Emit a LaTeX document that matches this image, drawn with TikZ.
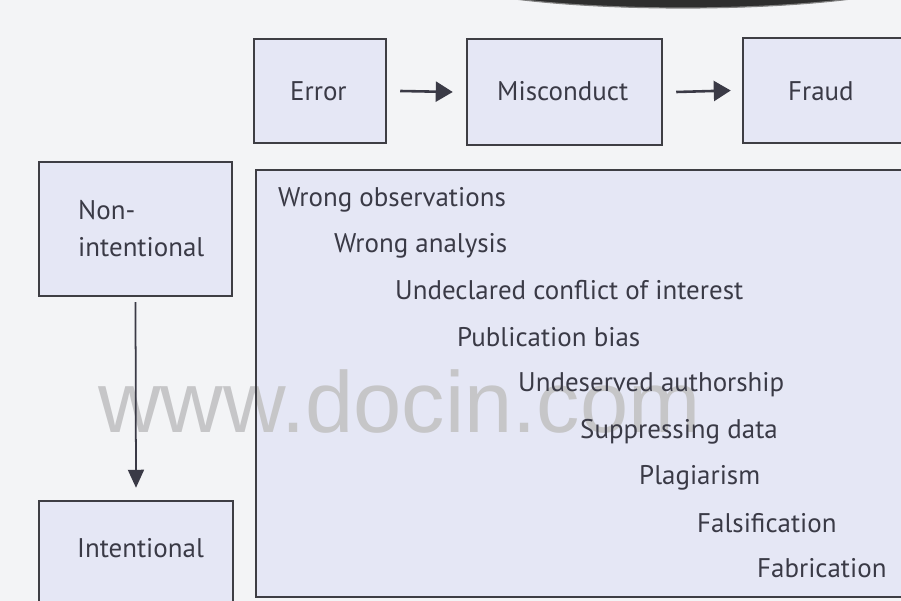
\documentclass[tikz,border=0pt]{standalone}
\usepackage{fontspec}
\setmainfont{PT Sans}
\newfontfamily\wmfont{Liberation Sans}
\usetikzlibrary{arrows.meta}
\definecolor{bgc}{HTML}{F3F4F6}
\definecolor{panelc}{HTML}{E5E7F5}
\definecolor{edgec}{HTML}{3E3E44}
\definecolor{ink}{HTML}{3A3A46}
\definecolor{wmark}{HTML}{C6C6C8}
\begin{document}
\begin{tikzpicture}[x=0.03cm,y=-0.03cm,
  panel/.style={fill=panelc, draw=none, rectangle, inner sep=0pt},
  edgeline/.style={draw=edgec, line width=1.7pt},
  lbl/.style={text=ink, font=\fontsize{23}{27}\selectfont, inner sep=0pt, anchor=base west},
  harrow/.style={draw=ink, line width=2.2pt, -{Triangle[length=0.51cm,width=0.6cm]}},
  varrow/.style={draw=ink, line width=1.5pt, -{Triangle[length=0.54cm,width=0.48cm]}},
  wm/.style={text=wmark, font=\wmfont\fontsize{74}{80}\selectfont, inner sep=0pt, anchor=base west}]
\useasboundingbox (0,0) rectangle (901,601);
\clip (0,0) rectangle (901,601);
\fill[bgc] (0,0) rectangle (901,601);
% dark shape at the top edge
\fill[black!82, draw=black!50, line width=1pt] (683,-30) ellipse [x radius=7.8cm, y radius=1.14cm];
% box fills
\node[panel, minimum width=3.96cm, minimum height=3.12cm] (err) at (320,91) {};
\node[panel, minimum width=5.85cm, minimum height=3.18cm] (mis) at (564.5,92) {};
\node[panel, minimum width=5.61cm, minimum height=3.15cm] (fra) at (836.5,90.5) {};
\node[panel, minimum width=5.79cm, minimum height=4.02cm] (non) at (135.5,229) {};
\node[panel, minimum width=5.82cm, minimum height=4.17cm] (int) at (136,570.5) {};
\node[panel, minimum width=20.22cm, minimum height=12.81cm] (big) at (593,383.5) {};
% watermark
\node[wm] (wmk) at (98,432) {www.docin.com};
% box borders
\foreach \n in {err,mis,fra,non,int,big}
  \draw[edgeline] (\n.north west) rectangle (\n.south east);
% connectors
\draw[harrow] ([xshift=0.42cm]err.east) -- ([xshift=-0.42cm]mis.west);
\draw[harrow] ([xshift=0.42cm]mis.east) -- ([xshift=-0.36cm]fra.west);
\draw[varrow] ([yshift=-0.18cm]non.south) -- ([yshift=0.39cm]int.north);
% labels
\node[lbl] (lerr) at (290,101) {Error};
\node[lbl] (lmis) at (497,101) {Misconduct};
\node[lbl] (lfra) at (788,101) {Fraud};
\node[lbl] (lnon1) at (78,220) {Non-};
\node[lbl] (lnon2) at (78,257) {intentional};
\node[lbl] (lint) at (77,557) {Intentional};
\node[lbl] (t1) at (278,207) {Wrong observations};
\node[lbl] (t2) at (334,253) {Wrong analysis};
\node[lbl] (t3) at (395,300) {Undeclared conflict of interest};
\node[lbl] (t4) at (457,347) {Publication bias};
\node[lbl] (t5) at (518,392) {Undeserved authorship};
\node[lbl] (t6) at (580,438) {Suppressing data};
\node[lbl] (t7) at (639,484) {Plagiarism};
\node[lbl] (t8) at (697,532) {Falsification};
\node[lbl] (t9) at (757,577) {Fabrication};
\end{tikzpicture}
\end{document}
